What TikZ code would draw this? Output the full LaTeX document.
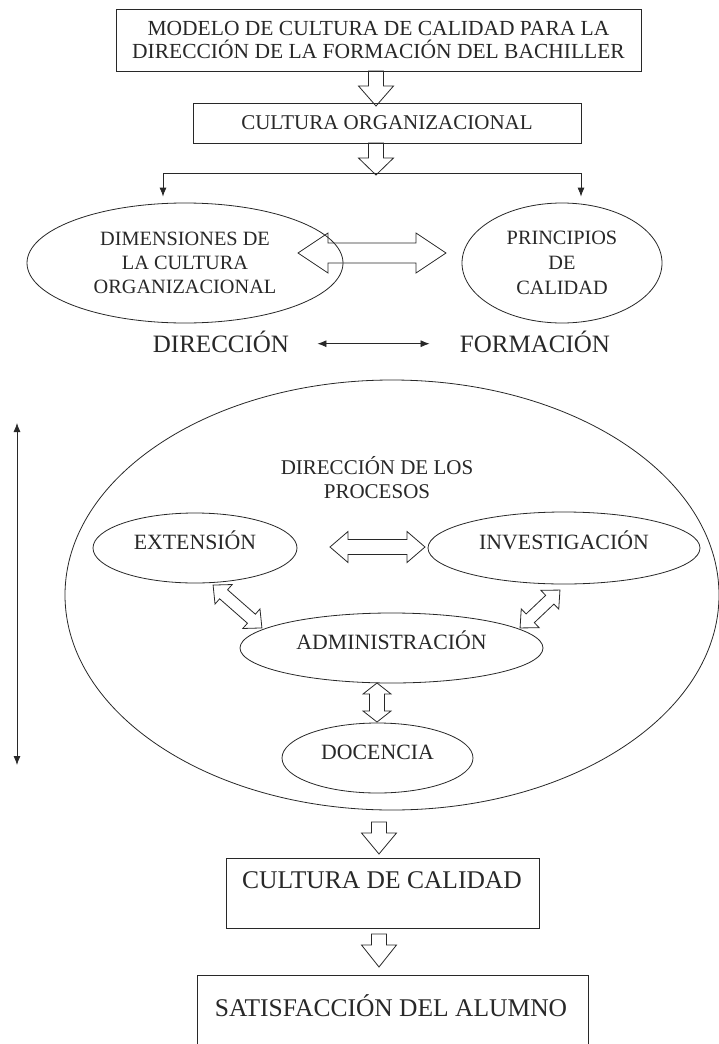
\documentclass[tikz,border=0pt]{standalone}
\usepackage{fontspec}
\setmainfont{Liberation Serif}
\usetikzlibrary{shapes.geometric,arrows.meta}
\definecolor{ink}{RGB}{40,40,40}
\newcommand\blkdown[4]{%
  \draw[blk] ({#1-7.5},#2) -- ({#1+7.5},#2) -- ({#1+7.5},#3) -- ({#1+17.5},#3) -- (#1,#4) -- ({#1-17.5},#3) -- ({#1-7.5},#3) -- cycle;}
\newcommand\blkdbl[7]{%
  \begin{scope}[shift={(#1,#2)},rotate=#3]
  \draw[blk] ({-#4/2},0) -- ({-#4/2+#7},{#6/2}) -- ({-#4/2+#7},{#5/2}) -- ({#4/2-#7},{#5/2}) -- ({#4/2-#7},{#6/2}) -- ({#4/2},0) -- ({#4/2-#7},{-#6/2}) -- ({#4/2-#7},{-#5/2}) -- ({-#4/2+#7},{-#5/2}) -- ({-#4/2+#7},{-#6/2}) -- cycle;
  \end{scope}}
\begin{document}
\begin{tikzpicture}[x=1pt,y=-1pt,color=ink,line width=0.8pt,
  box/.style={draw,rectangle,inner sep=0,align=center},
  ell/.style={draw,ellipse,inner sep=0,align=center},
  txt/.style={inner sep=0,align=center},
  proc/.style={ell,font=\fontsize{21.8}{24}\selectfont,text height=14pt,text depth=12pt},
  arr/.style={-{Latex[length=9pt,width=7pt]}},
  darr/.style={{Latex[length=9pt,width=7pt]}-{Latex[length=9pt,width=7pt]}},
  blk/.style={line width=0.8pt,line join=miter}]
\fill[white] (0,0) rectangle (719,1044);
\useasboundingbox (0,0) rectangle (719,1044);
\clip (0,0) rectangle (719,1044);

% top boxes
\node[box,minimum width=525pt,minimum height=62pt,font=\fontsize{21.5}{23}\selectfont] (modelo) at (378.5,40)
  {MODELO DE CULTURA DE CALIDAD PARA LA\\DIRECCIÓN DE LA FORMACIÓN DEL BACHILLER};
\blkdown{376}{71}{86}{106}
\node[box,minimum width=388pt,minimum height=40pt,font=\fontsize{21}{23}\selectfont] (corg) at (387,123) {CULTURA ORGANIZACIONAL};
\blkdown{376}{143}{158}{175}

% branch
\coordinate (br) at (376,173);
\node[ell,minimum width=316pt,minimum height=120pt,font=\fontsize{20.3}{24}\selectfont] (dim) at (185,263)
  {DIMENSIONES DE\\LA CULTURA\\ORGANIZACIONAL};
\node[ell,minimum width=200pt,minimum height=120pt,font=\fontsize{20.3}{25}\selectfont] (pri) at (562,263)
  {PRINCIPIOS\\DE\\CALIDAD};
\draw[arr] (br) -| ([xshift=-22pt,yshift=6pt]dim.north);
\draw[arr] (br) -| ([xshift=19pt,yshift=6pt]pri.north);
\blkdbl{372}{253}{0}{148}{20}{40}{30}

% direccion - formacion
\node[txt,anchor=base,font=\fontsize{25}{28}\selectfont] (dir) at (221,352) {DIRECCIÓN};
\node[txt,anchor=base,font=\fontsize{25}{28}\selectfont] (form) at (535,352) {FORMACIÓN};
\draw[darr] ([xshift=28pt,yshift=8.3pt]dir.base east) -- ([xshift=-30pt,yshift=8.3pt]form.base west);

% big ellipse
\node[ell,minimum width=654pt,minimum height=430pt] (big) at (392,595) {};
\coordinate (vt) at (17,423);
\coordinate (vb) at (17,765);
\draw[darr] (vt) -- (vb);
\node[txt,font=\fontsize{21}{24}\selectfont] (dlp) at (377,477.5) {DIRECCIÓN DE LOS\\PROCESOS};

\node[proc,minimum width=204pt,minimum height=70pt] (ext) at (195,548) {EXTENSIÓN};
\node[proc,minimum width=272pt,minimum height=72pt] (inv) at (564,548) {INVESTIGACIÓN};
\node[proc,minimum width=303pt,minimum height=70pt] (adm) at (391.5,648) {ADMINISTRACIÓN};
\node[proc,minimum width=191pt,minimum height=70pt] (doc) at (377.5,758) {DOCENCIA};

\blkdbl{377.5}{547}{0}{95}{15}{31}{18}
\blkdbl{237.5}{606.5}{-41.3}{65}{12}{26}{14}
\blkdbl{540}{609}{43.5}{55}{12}{26}{14}
\blkdbl{377}{702.5}{90}{39}{15}{28}{11}

% bottom
\blkdown{379}{822}{833}{854}
\node[box,minimum width=313pt,minimum height=70pt] (cdc) at (382.5,893) {};
\node[txt,anchor=base,font=\fontsize{25.5}{28}\selectfont] (cdctext) at (382,888.4) {CULTURA DE CALIDAD};
\blkdown{379}{934}{945}{967}
\node[box,minimum width=391pt,minimum height=110pt] (sat) at (392.5,1030) {};
\node[txt,anchor=base,font=\fontsize{25.5}{28}\selectfont] (sattext) at (391,1016.4) {SATISFACCIÓN DEL ALUMNO};
\end{tikzpicture}
\end{document}
